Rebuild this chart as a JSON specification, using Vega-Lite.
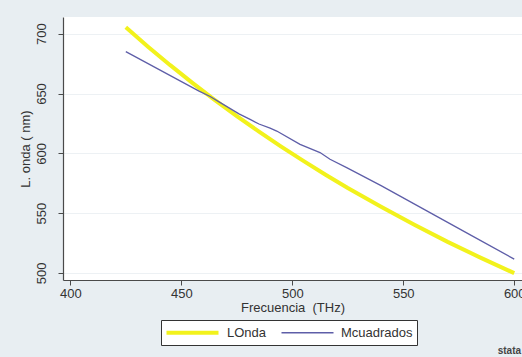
{
  "$schema": "https://vega.github.io/schema/vega-lite/v6.json",
  "width": 459,
  "height": 263,
  "autosize": {"type": "none"},
  "padding": {"left": 63, "top": 17, "right": 0, "bottom": 77},
  "background": "#e8eef2",
  "config": {
    "view": {"fill": "white", "stroke": null},
    "font": "Liberation Sans",
    "axis": {
      "domainColor": "#4a4a4a",
      "domainWidth": 1.2,
      "tickColor": "#4a4a4a",
      "tickWidth": 1,
      "tickSize": 5,
      "labelFontSize": 13,
      "labelColor": "#333333",
      "titleFontSize": 13,
      "titleFontWeight": "normal",
      "titleColor": "#333333"
    }
  },
  "title": {
    "text": "stata",
    "orient": "bottom",
    "anchor": "end",
    "fontSize": 10,
    "fontWeight": "bold",
    "color": "#444444",
    "offset": 0,
    "dx": -4
  },
  "data": {
    "values": [
      {"f": 425, "v": 705.4, "serie": "LOnda"},
      {"f": 435, "v": 689.2, "serie": "LOnda"},
      {"f": 445, "v": 673.7, "serie": "LOnda"},
      {"f": 455, "v": 658.9, "serie": "LOnda"},
      {"f": 465, "v": 644.7, "serie": "LOnda"},
      {"f": 475, "v": 631.1, "serie": "LOnda"},
      {"f": 485, "v": 618.1, "serie": "LOnda"},
      {"f": 495, "v": 605.6, "serie": "LOnda"},
      {"f": 505, "v": 593.6, "serie": "LOnda"},
      {"f": 515, "v": 582.1, "serie": "LOnda"},
      {"f": 525, "v": 571.0, "serie": "LOnda"},
      {"f": 540, "v": 555.2, "serie": "LOnda"},
      {"f": 555, "v": 540.2, "serie": "LOnda"},
      {"f": 570, "v": 525.9, "serie": "LOnda"},
      {"f": 585, "v": 512.5, "serie": "LOnda"},
      {"f": 600, "v": 499.7, "serie": "LOnda"},
      {"f": 425, "v": 685.0, "serie": "Mcuadrados"},
      {"f": 458, "v": 652.0, "serie": "Mcuadrados"},
      {"f": 463, "v": 647.5, "serie": "Mcuadrados"},
      {"f": 467, "v": 643.0, "serie": "Mcuadrados"},
      {"f": 476, "v": 633.0, "serie": "Mcuadrados"},
      {"f": 481, "v": 628.3, "serie": "Mcuadrados"},
      {"f": 485, "v": 624.5, "serie": "Mcuadrados"},
      {"f": 490, "v": 621.0, "serie": "Mcuadrados"},
      {"f": 493, "v": 618.6, "serie": "Mcuadrados"},
      {"f": 503.5, "v": 607.5, "serie": "Mcuadrados"},
      {"f": 512.5, "v": 600.6, "serie": "Mcuadrados"},
      {"f": 517, "v": 595.0, "serie": "Mcuadrados"},
      {"f": 524.5, "v": 588.0, "serie": "Mcuadrados"},
      {"f": 540, "v": 573.0, "serie": "Mcuadrados"},
      {"f": 560, "v": 552.5, "serie": "Mcuadrados"},
      {"f": 580, "v": 532.0, "serie": "Mcuadrados"},
      {"f": 600, "v": 511.5, "serie": "Mcuadrados"}
    ]
  },
  "mark": {"type": "line", "strokeCap": "butt"},
  "encoding": {
    "x": {
      "field": "f",
      "type": "quantitative",
      "scale": {"domain": [396.7, 603.5], "nice": false, "zero": false},
      "axis": {
        "values": [400, 450, 500, 550, 600],
        "title": "Frecuencia \u00a0(THz)",
        "grid": false,
        "labelPadding": 2,
        "titlePadding": 1
      }
    },
    "y": {
      "field": "v",
      "type": "quantitative",
      "scale": {"domain": [494, 714], "nice": false, "zero": false},
      "axis": {
        "values": [500, 550, 600, 650, 700],
        "title": "L. onda ( nm)",
        "grid": true,
        "gridColor": "#edf1f4",
        "gridWidth": 1,
        "labelAngle": -90,
        "labelAlign": "center",
        "labelBaseline": "bottom",
        "labelPadding": 10,
        "titlePadding": 3
      }
    },
    "color": {
      "field": "serie",
      "type": "nominal",
      "scale": {"domain": ["LOnda", "Mcuadrados"], "range": ["#f2f21c", "#5e5ea8"]},
      "legend": {
        "title": null,
        "orient": "none",
        "legendX": 98,
        "legendY": 303,
        "direction": "horizontal",
        "padding": 4,
        "strokeColor": "#333333",
        "fillColor": "white",
        "symbolType": "M-4,0H4",
        "symbolSize": 169,
        "symbolOffset": 19,
        "labelFontSize": 13,
        "labelColor": "#333333",
        "labelOffset": 26,
        "columnPadding": 11
      }
    },
    "strokeWidth": {
      "field": "serie",
      "type": "nominal",
      "scale": {"domain": ["LOnda", "Mcuadrados"], "range": [4, 1.3]},
      "legend": {
        "title": null,
        "orient": "none",
        "legendX": 98,
        "legendY": 303,
        "direction": "horizontal",
        "padding": 4,
        "strokeColor": "#333333",
        "fillColor": "white",
        "symbolType": "M-4,0H4",
        "symbolSize": 169,
        "symbolOffset": 19,
        "labelFontSize": 13,
        "labelColor": "#333333",
        "labelOffset": 26,
        "columnPadding": 11
      }
    }
  }
}
